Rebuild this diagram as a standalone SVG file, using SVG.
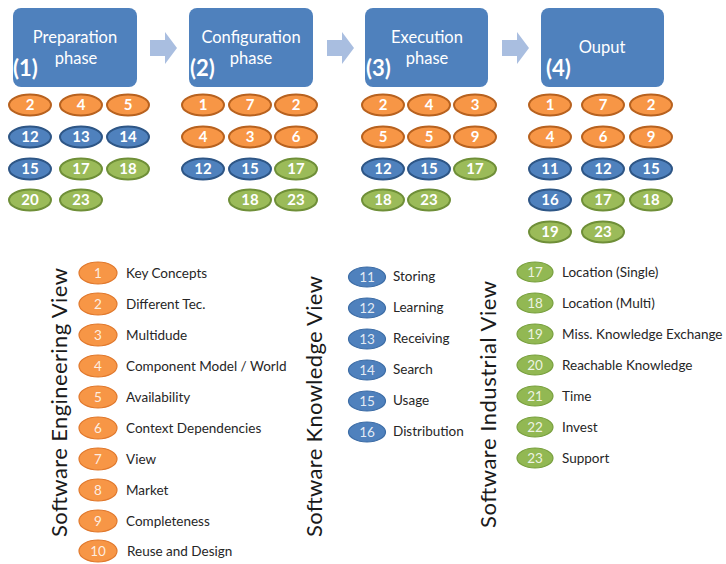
<svg xmlns="http://www.w3.org/2000/svg" width="726" height="564" viewBox="0 0 726 564">
<style>
text{font-family:Lato,"Open Sans","Liberation Sans",sans-serif}
.box{fill:#4F81BD}
.bt{fill:#fff;font-size:16.5px;text-anchor:middle}
.bn{fill:#fff;font-size:22px;font-weight:bold}
.o{fill:#F79646;stroke:#B8621F;stroke-width:2}
.b{fill:#4F81BD;stroke:#2E5686;stroke-width:2}
.g{fill:#9BBB59;stroke:#6F8F38;stroke-width:2}
.n{fill:#fff;font-size:15px;font-weight:bold;text-anchor:middle}
.lo{fill:#F79646;stroke:#E0782C;stroke-width:1.2}
.lb{fill:#4F81BD;stroke:#3D6DA6;stroke-width:1.2}
.lg{fill:#92B853;stroke:#78A03E;stroke-width:1.2}
.ln{fill:#fff;fill-opacity:0.85;font-size:13.5px;text-anchor:middle}
.lt{fill:#262626;font-size:13.5px}
.vt{fill:#1a1a1a;font-size:22px;text-anchor:middle}
.arr{fill:#A9BEE0}
</style>

<g id="connectors">
<polygon class="arr" points="150,40 165,40 165,32 177,48 165,64 165,56 150,56"/>
<polygon class="arr" points="327,40 342,40 342,32 354,48 342,64 342,56 327,56"/>
<polygon class="arr" points="502,40 517,40 517,32 529,48 517,64 517,56 502,56"/>
</g>

<g id="phase1">
<rect class="box" x="13" y="8" width="124" height="79" rx="8"/>
<text class="bt" x="75" y="43">Preparation</text>
<text class="bt" x="76" y="64">phase</text>
<text class="bn" x="13" y="76">(1)</text>
</g>
<g id="phase2">
<rect class="box" x="189" y="8" width="124" height="79" rx="8"/>
<text class="bt" x="251" y="43">Configuration</text>
<text class="bt" x="251" y="64">phase</text>
<text class="bn" x="190" y="76">(2)</text>
</g>
<g id="phase3">
<rect class="box" x="365" y="8" width="123" height="79" rx="8"/>
<text class="bt" x="427" y="43">Execution</text>
<text class="bt" x="427" y="64">phase</text>
<text class="bn" x="366" y="76">(3)</text>
</g>
<g id="phase4">
<rect class="box" x="541" y="8" width="123" height="79" rx="8"/>
<text class="bt" x="602" y="53">Ouput</text>
<text class="bn" x="546" y="76">(4)</text>
</g>

<g id="phase1-items">
<ellipse class="o" cx="30" cy="105" rx="21" ry="10.5"/><text class="n" x="30" y="110">2</text>
<ellipse class="o" cx="81" cy="105" rx="21" ry="10.5"/><text class="n" x="81" y="110">4</text>
<ellipse class="o" cx="128" cy="105" rx="21" ry="10.5"/><text class="n" x="128" y="110">5</text>
<ellipse class="b" cx="30" cy="137" rx="21" ry="10.5"/><text class="n" x="30" y="142">12</text>
<ellipse class="b" cx="81" cy="137" rx="21" ry="10.5"/><text class="n" x="81" y="142">13</text>
<ellipse class="b" cx="128" cy="137" rx="21" ry="10.5"/><text class="n" x="128" y="142">14</text>
<ellipse class="b" cx="30" cy="169" rx="21" ry="10.5"/><text class="n" x="30" y="174">15</text>
<ellipse class="g" cx="81" cy="169" rx="21" ry="10.5"/><text class="n" x="81" y="174">17</text>
<ellipse class="g" cx="128" cy="169" rx="21" ry="10.5"/><text class="n" x="128" y="174">18</text>
<ellipse class="g" cx="30" cy="200" rx="21" ry="10.5"/><text class="n" x="30" y="205">20</text>
<ellipse class="g" cx="81" cy="200" rx="21" ry="10.5"/><text class="n" x="81" y="205">23</text>
</g>

<g id="phase2-items">
<ellipse class="o" cx="203" cy="105" rx="21" ry="10.5"/><text class="n" x="203" y="110">1</text>
<ellipse class="o" cx="250" cy="105" rx="21" ry="10.5"/><text class="n" x="250" y="110">7</text>
<ellipse class="o" cx="296" cy="105" rx="21" ry="10.5"/><text class="n" x="296" y="110">2</text>
<ellipse class="o" cx="203" cy="137" rx="21" ry="10.5"/><text class="n" x="203" y="142">4</text>
<ellipse class="o" cx="250" cy="137" rx="21" ry="10.5"/><text class="n" x="250" y="142">3</text>
<ellipse class="o" cx="296" cy="137" rx="21" ry="10.5"/><text class="n" x="296" y="142">6</text>
<ellipse class="b" cx="203" cy="169" rx="21" ry="10.5"/><text class="n" x="203" y="174">12</text>
<ellipse class="b" cx="250" cy="169" rx="21" ry="10.5"/><text class="n" x="250" y="174">15</text>
<ellipse class="g" cx="296" cy="169" rx="21" ry="10.5"/><text class="n" x="296" y="174">17</text>
<ellipse class="g" cx="250" cy="200" rx="21" ry="10.5"/><text class="n" x="250" y="205">18</text>
<ellipse class="g" cx="296" cy="200" rx="21" ry="10.5"/><text class="n" x="296" y="205">23</text>
</g>

<g id="phase3-items">
<ellipse class="o" cx="383" cy="105" rx="21" ry="10.5"/><text class="n" x="383" y="110">2</text>
<ellipse class="o" cx="429" cy="105" rx="21" ry="10.5"/><text class="n" x="429" y="110">4</text>
<ellipse class="o" cx="475" cy="105" rx="21" ry="10.5"/><text class="n" x="475" y="110">3</text>
<ellipse class="o" cx="383" cy="137" rx="21" ry="10.5"/><text class="n" x="383" y="142">5</text>
<ellipse class="o" cx="429" cy="137" rx="21" ry="10.5"/><text class="n" x="429" y="142">5</text>
<ellipse class="o" cx="475" cy="137" rx="21" ry="10.5"/><text class="n" x="475" y="142">9</text>
<ellipse class="b" cx="383" cy="169" rx="21" ry="10.5"/><text class="n" x="383" y="174">12</text>
<ellipse class="b" cx="429" cy="169" rx="21" ry="10.5"/><text class="n" x="429" y="174">15</text>
<ellipse class="g" cx="475" cy="169" rx="21" ry="10.5"/><text class="n" x="475" y="174">17</text>
<ellipse class="g" cx="383" cy="200" rx="21" ry="10.5"/><text class="n" x="383" y="205">18</text>
<ellipse class="g" cx="429" cy="200" rx="21" ry="10.5"/><text class="n" x="429" y="205">23</text>
</g>

<g id="phase4-items">
<ellipse class="o" cx="550" cy="105" rx="21" ry="10.5"/><text class="n" x="550" y="110">1</text>
<ellipse class="o" cx="603" cy="105" rx="21" ry="10.5"/><text class="n" x="603" y="110">7</text>
<ellipse class="o" cx="651" cy="105" rx="21" ry="10.5"/><text class="n" x="651" y="110">2</text>
<ellipse class="o" cx="550" cy="137" rx="21" ry="10.5"/><text class="n" x="550" y="142">4</text>
<ellipse class="o" cx="603" cy="137" rx="21" ry="10.5"/><text class="n" x="603" y="142">6</text>
<ellipse class="o" cx="651" cy="137" rx="21" ry="10.5"/><text class="n" x="651" y="142">9</text>
<ellipse class="b" cx="550" cy="169" rx="21" ry="10.5"/><text class="n" x="550" y="174">11</text>
<ellipse class="b" cx="603" cy="169" rx="21" ry="10.5"/><text class="n" x="603" y="174">12</text>
<ellipse class="b" cx="651" cy="169" rx="21" ry="10.5"/><text class="n" x="651" y="174">15</text>
<ellipse class="b" cx="550" cy="200" rx="21" ry="10.5"/><text class="n" x="550" y="205">16</text>
<ellipse class="g" cx="603" cy="200" rx="21" ry="10.5"/><text class="n" x="603" y="205">17</text>
<ellipse class="g" cx="651" cy="200" rx="21" ry="10.5"/><text class="n" x="651" y="205">18</text>
<ellipse class="g" cx="550" cy="232" rx="21" ry="10.5"/><text class="n" x="550" y="237">19</text>
<ellipse class="g" cx="603" cy="232" rx="21" ry="10.5"/><text class="n" x="603" y="237">23</text>
</g>

<g id="legend-engineering">
<text class="vt" transform="translate(67,402.5) rotate(-90)" textLength="269">Software Engineering View</text>
<ellipse class="lo" cx="98" cy="273" rx="19" ry="11"/><text class="ln" x="98" y="278">1</text><text class="lt" x="126" y="278">Key Concepts</text>
<ellipse class="lo" cx="98" cy="304" rx="19" ry="11"/><text class="ln" x="98" y="309">2</text><text class="lt" x="126" y="309">Different Tec.</text>
<ellipse class="lo" cx="98" cy="335" rx="19" ry="11"/><text class="ln" x="98" y="340">3</text><text class="lt" x="126" y="340">Multidude</text>
<ellipse class="lo" cx="98" cy="366" rx="19" ry="11"/><text class="ln" x="98" y="371">4</text><text class="lt" x="126" y="371">Component Model / World</text>
<ellipse class="lo" cx="98" cy="397" rx="19" ry="11"/><text class="ln" x="98" y="402">5</text><text class="lt" x="126" y="402">Availability</text>
<ellipse class="lo" cx="98" cy="428" rx="19" ry="11"/><text class="ln" x="98" y="433">6</text><text class="lt" x="126" y="433">Context Dependencies</text>
<ellipse class="lo" cx="98" cy="459" rx="19" ry="11"/><text class="ln" x="98" y="464">7</text><text class="lt" x="126" y="464">View</text>
<ellipse class="lo" cx="98" cy="490" rx="19" ry="11"/><text class="ln" x="98" y="495">8</text><text class="lt" x="126" y="495">Market</text>
<ellipse class="lo" cx="98" cy="521" rx="19" ry="11"/><text class="ln" x="98" y="526">9</text><text class="lt" x="126" y="526">Completeness</text>
<ellipse class="lo" cx="98" cy="551" rx="19" ry="11"/><text class="ln" x="98" y="556">10</text><text class="lt" x="127" y="556">Reuse and Design</text>
</g>

<g id="legend-knowledge">
<text class="vt" transform="translate(322,406.5) rotate(-90)" textLength="261">Software Knowledge View</text>
<ellipse class="lb" cx="367" cy="277" rx="18.5" ry="10"/><text class="ln" x="367" y="282">11</text><text class="lt" x="393" y="281">Storing</text>
<ellipse class="lb" cx="367" cy="308" rx="18.5" ry="10"/><text class="ln" x="367" y="313">12</text><text class="lt" x="393" y="312">Learning</text>
<ellipse class="lb" cx="367" cy="339" rx="18.5" ry="10"/><text class="ln" x="367" y="344">13</text><text class="lt" x="393" y="343">Receiving</text>
<ellipse class="lb" cx="367" cy="370" rx="18.5" ry="10"/><text class="ln" x="367" y="375">14</text><text class="lt" x="393" y="374">Search</text>
<ellipse class="lb" cx="367" cy="401" rx="18.5" ry="10"/><text class="ln" x="367" y="406">15</text><text class="lt" x="393" y="405">Usage</text>
<ellipse class="lb" cx="367" cy="432" rx="18.5" ry="10"/><text class="ln" x="367" y="437">16</text><text class="lt" x="393" y="436">Distribution</text>
</g>

<g id="legend-industrial">
<text class="vt" transform="translate(496,404.5) rotate(-90)" textLength="247">Software Industrial View</text>
<ellipse class="lg" cx="535" cy="272" rx="18" ry="10"/><text class="ln" x="535" y="277">17</text><text class="lt" x="562" y="277">Location (Single)</text>
<ellipse class="lg" cx="535" cy="303" rx="18" ry="10"/><text class="ln" x="535" y="308">18</text><text class="lt" x="562" y="308">Location (Multi)</text>
<ellipse class="lg" cx="535" cy="334" rx="18" ry="10"/><text class="ln" x="535" y="339">19</text><text class="lt" x="562" y="339">Miss. Knowledge Exchange</text>
<ellipse class="lg" cx="535" cy="365" rx="18" ry="10"/><text class="ln" x="535" y="370">20</text><text class="lt" x="562" y="370">Reachable Knowledge</text>
<ellipse class="lg" cx="535" cy="396" rx="18" ry="10"/><text class="ln" x="535" y="401">21</text><text class="lt" x="562" y="401">Time</text>
<ellipse class="lg" cx="535" cy="427" rx="18" ry="10"/><text class="ln" x="535" y="432">22</text><text class="lt" x="562" y="432">Invest</text>
<ellipse class="lg" cx="535" cy="458" rx="18" ry="10"/><text class="ln" x="535" y="463">23</text><text class="lt" x="562" y="463">Support</text>
</g>
</svg>
